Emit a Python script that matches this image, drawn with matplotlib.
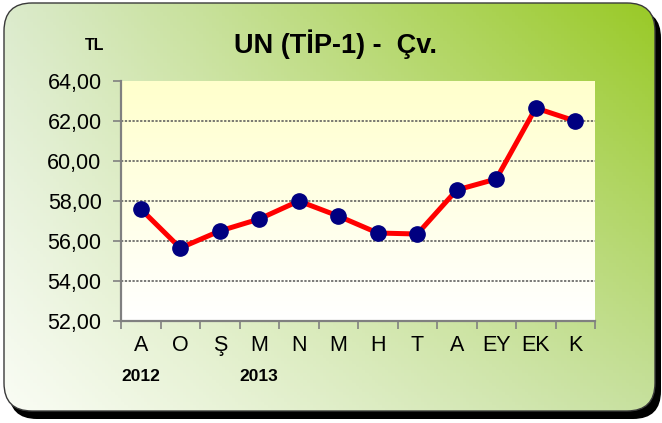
import numpy as np
import matplotlib
matplotlib.use("Agg")
import matplotlib.pyplot as plt
from matplotlib.patches import FancyBboxPatch

plt.rcParams['font.family'] = ['Liberation Sans', 'DejaVu Sans']

# data
months = ['A', 'O', 'Ş', 'M', 'N', 'M', 'H', 'T', 'A', 'EY', 'EK', 'K']
prices = [57.6, 55.65, 56.5, 57.1, 58.0, 57.25, 56.4, 56.35, 58.55, 59.1, 62.65, 62.0]
year_labels = {0: '2012', 3: '2013'}
yticks = [52, 54, 56, 58, 60, 62, 64]

W, H = 662, 423
fig = plt.figure(figsize=(W / 100, H / 100), dpi=100)
fig.patch.set_facecolor('white')

# background panel with shadow and diagonal green gradient
bg = fig.add_axes([0, 0, 1, 1])
bg.set_xlim(0, W)
bg.set_ylim(H, 0)
bg.axis('off')

shadow = FancyBboxPatch((9, 10), 652, 409, boxstyle="round,pad=0,rounding_size=28",
                        fc='black', ec='none', zorder=1)
bg.add_patch(shadow)

box = FancyBboxPatch((4, 3), 651, 408, boxstyle="round,pad=0,rounding_size=28",
                     fc='none', ec='#3a3a3a', lw=1.0, zorder=3)
bg.add_patch(box)

tl = np.array([0.86, 0.92, 0.80])
tr = np.array([0.60, 0.79, 0.15])
bl = np.array([0.98, 0.99, 0.96])
br = np.array([0.78, 0.88, 0.62])
u = np.linspace(0, 1, 200)[None, :, None]
v = np.linspace(0, 1, 130)[:, None, None]
grad = (1 - v) * ((1 - u) * tl + u * tr) + v * ((1 - u) * bl + u * br)
im = bg.imshow(grad, extent=(4, 655, 411, 3), aspect='auto', zorder=2)
im.set_clip_path(box)

# main plot
ax = fig.add_axes([121 / W, 1 - 321 / H, 474 / W, 240 / H])
ax.patch.set_alpha(0)
yel = np.linspace(0, 1, 100)[:, None, None]
ygrad = (1 - yel) * np.array([1.0, 1.0, 0.80]) + yel * np.array([1.0, 1.0, 1.0])
ax.imshow(ygrad, extent=(0, 1, 0, 1), transform=ax.transAxes, aspect='auto', zorder=0)

x = np.arange(len(months))
ax.plot(x, prices, color='#ff0000', lw=3.6, marker='o', ms=11,
        mfc='#000080', mec='#000080', zorder=5)

ax.set_xlim(-0.5, len(months) - 0.5)
ax.set_ylim(52, 64)
ax.set_yticks(yticks)
ax.yaxis.set_major_formatter(matplotlib.ticker.FuncFormatter(lambda t, p: ('%.2f' % t).replace('.', ',')))
for lab in ax.get_yticklabels():
    lab.set_fontsize(15.5)
for t in yticks[1:-1]:
    ax.axhline(t, color='#555555', lw=1.1, ls=(0, (1.5, 1)), zorder=2)

ax.set_xticks(x)
ax.set_xticklabels(months, fontsize=15.5)
ax.set_xticks(np.arange(-0.5, len(months)), minor=True)
ax.tick_params(axis='x', which='major', length=0, pad=10)
ax.tick_params(axis='x', which='minor', length=6, color='#808080', width=1.2)
ax.tick_params(axis='y', length=6, color='#808080', width=1.2, pad=8, labelsize=15.5)

for s in ['top', 'right']:
    ax.spines[s].set_visible(False)
for s in ['left', 'bottom']:
    ax.spines[s].set_color('#808080')
    ax.spines[s].set_linewidth(1.6)

for i, yl in year_labels.items():
    ax.text(i, -0.232, yl, transform=ax.get_xaxis_transform(), ha='center', va='center',
            fontsize=12.5, fontweight='bold')

fig.text(336 / W, 1 - 44 / H, 'UN (TİP-1) -  Çv.', ha='center', va='center',
         fontsize=19.5, fontweight='bold')
fig.text(95 / W, 1 - 45 / H, 'TL', ha='center', va='center', fontsize=11.5, fontweight='bold')

fig.savefig('out.png', dpi=100)
